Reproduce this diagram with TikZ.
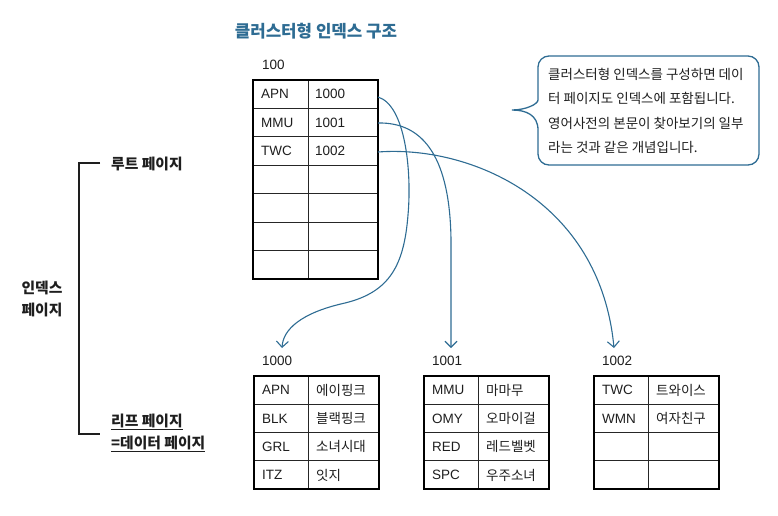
\documentclass[tikz,border=0pt]{standalone}
\usepackage{fontspec}
\setmainfont{Liberation Sans}
\newfontfamily\kr{Noto Sans CJK KR}
\usetikzlibrary{arrows.meta,calc}
\definecolor{tblue}{HTML}{2E6C93}
\definecolor{ink}{HTML}{1E1E1E}
\begin{document}
\begin{tikzpicture}[x=1pt,y=-1pt,
  cell/.style={anchor=west,inner sep=0pt,text=ink,font=\fontsize{13.5}{16}\selectfont},
  krcell/.style={anchor=west,inner sep=0pt,text=ink,font=\kr\fontsize{13.5}{16}\selectfont},
  outerbox/.style={draw=black,line width=1.7pt},
  innerline/.style={draw=black!85,line width=0.9pt},
  conn/.style={draw=tblue,line width=1.1pt,-{Straight Barb[length=6pt,width=12pt,line width=1.1pt]}},
  lbl/.style={inner sep=0pt,text=ink,font=\kr\bfseries\fontsize{14.8}{22}\selectfont,anchor=west},
  ]
\path[use as bounding box] (0,0) rectangle (778,515);

% title
\node[font=\kr\bfseries\fontsize{16.8}{20}\selectfont, text=tblue] (title) at (316,31) {클러스터형 인덱스 구조};

% root table
\node[cell] (p100) at (262,65) {100};
\foreach \i in {1,...,6} \draw[innerline] (253,{80+28.4*\i}) -- (378,{80+28.4*\i});
\draw[innerline] (308,80) -- (308,278.8);
\draw[outerbox] (253,80) rectangle (378,278.8);
\node[cell] (rk1) at (261,94.2) {APN};  \node[cell] (rv1) at (315,94.2) {1000};
\node[cell] (rk2) at (261,122.6) {MMU}; \node[cell] (rv2) at (315,122.6) {1001};
\node[cell] (rk3) at (261,151) {TWC};   \node[cell] (rv3) at (315,151) {1002};
\coordinate (out1) at (378,97);
\coordinate (out2) at (378,123);
\coordinate (out3) at (378,152);

% leaf tables
\foreach \L in {254,424,594} {
  \foreach \i in {1,2,3} \draw[innerline] (\L,{376+28.3*\i}) -- ({\L+125},{376+28.3*\i});
  \draw[innerline] ({\L+54},376) -- ({\L+54},489.2);
  \draw[outerbox] (\L,376) rectangle ({\L+125},489.2);
}
\node[cell] (p1000) at (262,361) {1000};
\node[cell] (p1001) at (432,361) {1001};
\node[cell] (p1002) at (602,361) {1002};

\node[cell] (a1) at (262,390.2) {APN}; \node[krcell] (a1v) at (316,390.2) {에이핑크};
\node[cell] (a2) at (262,418.5) {BLK}; \node[krcell] (a2v) at (316,418.5) {블랙핑크};
\node[cell] (a3) at (262,446.8) {GRL}; \node[krcell] (a3v) at (316,446.8) {소녀시대};
\node[cell] (a4) at (262,475.1) {ITZ}; \node[krcell] (a4v) at (316,475.1) {잇지};

\node[cell] (b1) at (432,390.2) {MMU}; \node[krcell] (b1v) at (486,390.2) {마마무};
\node[cell] (b2) at (432,418.5) {OMY}; \node[krcell] (b2v) at (486,418.5) {오마이걸};
\node[cell] (b3) at (432,446.8) {RED}; \node[krcell] (b3v) at (486,446.8) {레드벨벳};
\node[cell] (b4) at (432,475.1) {SPC}; \node[krcell] (b4v) at (486,475.1) {우주소녀};

\node[cell] (c1) at (602,390.2) {TWC}; \node[krcell] (c1v) at (656,390.2) {트와이스};
\node[cell] (c2) at (602,418.5) {WMN}; \node[krcell] (c2v) at (656,418.5) {여자친구};

\coordinate (in1000) at (282,348);
\coordinate (in1001) at (451,348);
\coordinate (in1002) at (614,348);

% connectors
\draw[conn] (out1) .. controls (405,105) and (412,170) .. (408,215)
  .. controls (404,265) and (390,292) .. (345,303)
  .. controls (300,313) and (283,330) .. (in1000);
\draw[conn] (out2) .. controls (425,122) and (450,160) .. (451,240) -- (in1001);
\draw[conn] (out3) .. controls (470,145) and (600,200) .. (in1002);

% callout
\draw[tblue, line width=1.3pt] (538,130) [rounded corners=11pt] -- (538,165) -- (759,165) -- (759,56) -- (538,56) -- (538,89)
  [sharp corners] .. controls (538,104) and (526,110) .. (512,110)
  .. controls (526,110) and (538,115) .. (538,130);
\node[font=\kr\fontsize{13.5}{24.3}\selectfont, align=left, text=ink, inner sep=0pt, anchor=north west] (note) at (548,68)
  {클러스터형 인덱스를 구성하면 데이\\터 페이지도 인덱스에 포함됩니다.\\영어사전의 본문이 찾아보기의 일부\\라는 것과 같은 개념입니다.};

% left bracket and labels
\node[lbl] (rootp) at (111,164) {루트 페이지};
\node[lbl, align=left, anchor=center] (idxp) at (42,299) {인덱스\\페이지};
\node[lbl, align=left, anchor=north west] (leafp) at (111,414) {\underline{리프 페이지}\\\underline{=데이터 페이지}};
\draw[ink, line width=1.2pt] (100,163) -- (79,163) -- (79,434) -- (100,434);
\end{tikzpicture}
\end{document}
